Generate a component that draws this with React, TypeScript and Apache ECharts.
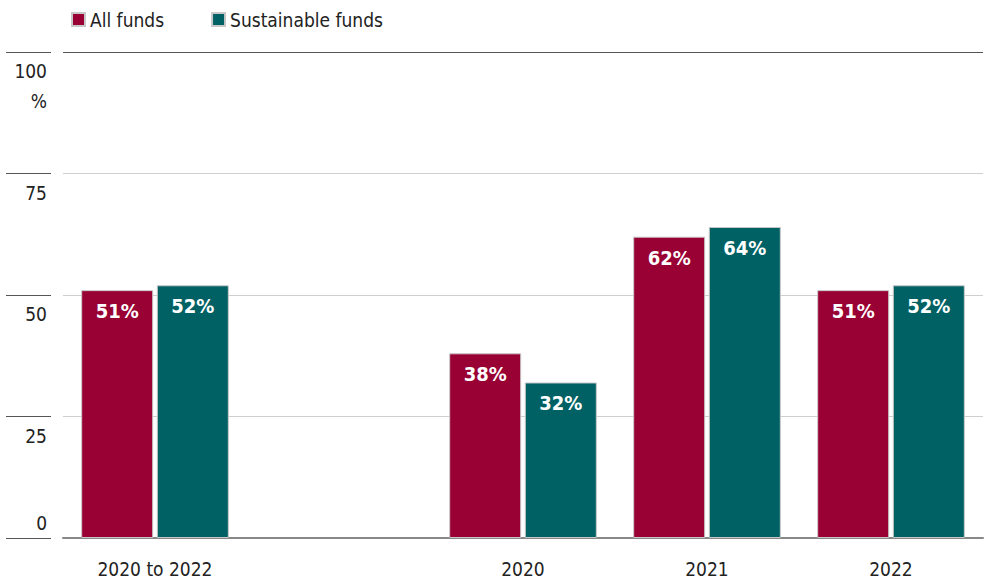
import React, { useEffect, useRef } from "react";
import * as echarts from "echarts";

const categories = ["2020 to 2022", "", "2020", "2021", "2022"];
const allFunds: (number | string)[] = [51, "-", 38, 62, 51];
const sustainableFunds: (number | string)[] = [52, "-", 32, 64, 52];
const seriesNames = ["All funds", "Sustainable funds"];
const yMin = 0;
const yMax = 100;
const yInterval = 25;

const FONT = "'DejaVu Sans Condensed', 'Roboto', sans-serif";
const RED = "#990033";
const TEAL = "#006165";
const FS = 19;

export default function App() {
  const ref = useRef<HTMLDivElement>(null);
  useEffect(() => {
    if (!ref.current) return;
    const chart = echarts.init(ref.current, undefined, { renderer: "svg" });
    const labelStyle = {
      show: true,
      position: "insideTop" as const,
      distance: 11,
      color: "#fff",
      fontFamily: FONT,
      fontWeight: "bold" as const,
      fontSize: 20,
      formatter: (p: any) => `${p.value}%`,
    };
    chart.setOption({
      animation: false,
      textStyle: { fontFamily: FONT },
      legend: {
        top: 5,
        left: 66,
        icon: "rect",
        itemWidth: 13,
        itemHeight: 13,
        itemGap: 47,
        textStyle: { fontSize: 19, color: "#222", fontFamily: FONT },
        data: seriesNames,
      },
      grid: [
        { left: 63, right: 5, top: 52, bottom: 43 },
        { left: 6, right: 988 - 51, top: 52, bottom: 43 },
      ],
      xAxis: [
        {
          type: "category",
          gridIndex: 0,
          data: categories,
          axisLine: { show: true, lineStyle: { color: "#888", width: 2 } },
          axisTick: { show: false },
          axisLabel: { fontSize: FS, color: "#222", fontFamily: FONT, margin: 21 },
        },
        { type: "category", gridIndex: 1, show: false, data: [""] },
      ],
      yAxis: [
        {
          type: "value",
          gridIndex: 0,
          min: yMin,
          max: yMax,
          interval: yInterval,
          axisLabel: { show: false },
          axisLine: { show: false },
          axisTick: { show: false },
          splitLine: {
            lineStyle: { color: ["#888", "#cfcfcf", "#cfcfcf", "#cfcfcf", "#555"], width: 1 },
          },
        },
        {
          type: "value",
          gridIndex: 1,
          position: "right",
          min: yMin,
          max: yMax,
          interval: yInterval,
          axisLine: { show: false },
          axisTick: { show: false },
          splitLine: { lineStyle: { color: "#555", width: 1 } },
          axisLabel: {
            inside: true,
            margin: 4,
            fontSize: FS,
            color: "#222",
            fontFamily: FONT,
            verticalAlign: "top",
            lineHeight: 30,
            padding: [4, 0, 0, 0],
            formatter: (v: number) => (v === yMin ? "" : v === yMax ? `${v}\n%` : `${v}`),
          },
        },
        {
          type: "value",
          gridIndex: 1,
          position: "right",
          min: yMin,
          max: yMax,
          interval: yInterval,
          axisLine: { show: false },
          axisTick: { show: false },
          splitLine: { show: false },
          axisLabel: {
            inside: true,
            margin: 4,
            fontSize: FS,
            color: "#222",
            fontFamily: FONT,
            verticalAlign: "bottom",
            lineHeight: 30,
            formatter: (v: number) => (v === yMin ? `${v}` : ""),
          },
        },
      ],
      series: [
        {
          name: seriesNames[0],
          type: "bar",
          xAxisIndex: 0,
          yAxisIndex: 0,
          data: allFunds,
          barWidth: 72,
          barGap: "5%",
          itemStyle: { color: RED, borderColor: "#c8c8c8", borderWidth: 1 },
          label: labelStyle,
        },
        {
          name: seriesNames[1],
          type: "bar",
          xAxisIndex: 0,
          yAxisIndex: 0,
          data: sustainableFunds,
          barWidth: 72,
          barGap: "5%",
          itemStyle: { color: TEAL, borderColor: "#c8c8c8", borderWidth: 1 },
          label: labelStyle,
        },
      ],
    });
    return () => chart.dispose();
  }, []);
  return <div ref={ref} style={{ width: 988, height: 581, position: "absolute", left: 0, top: 0 }} />;
}
